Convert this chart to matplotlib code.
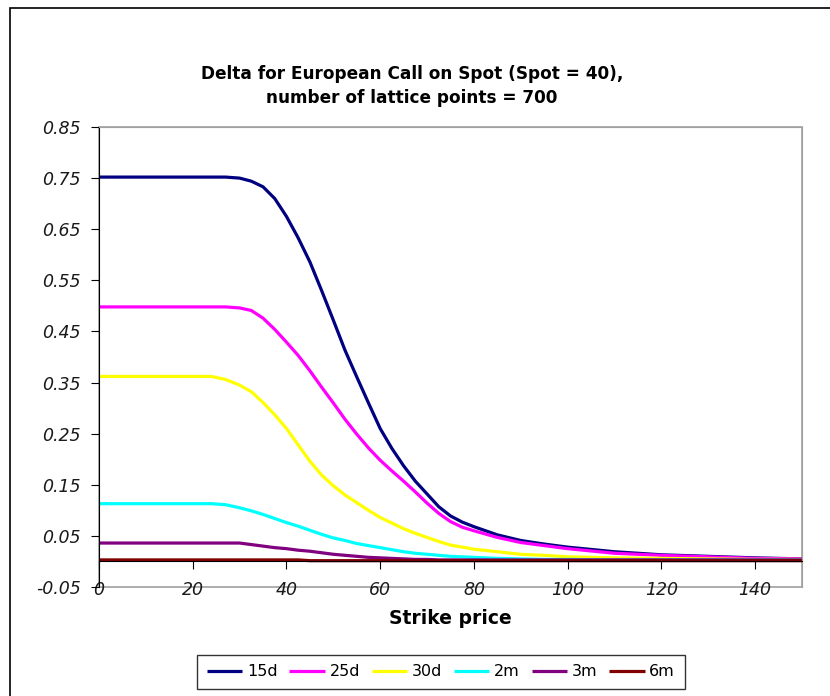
import numpy as np
import matplotlib.pyplot as plt
from matplotlib.patches import Rectangle

# strike prices (x) and delta for each maturity
strikes = [0, 10, 20, 24, 27, 30, 32.5, 35, 37.5, 40, 42.5, 45, 47.5, 50, 52.5,
           55, 57.5, 60, 62.5, 65, 67.5, 70, 72.5, 75, 77.5, 80, 85, 90, 95,
           100, 110, 120, 130, 140, 150]

d_15d = [0.752, 0.752, 0.752, 0.752, 0.752, 0.750, 0.744, 0.733, 0.710, 0.675,
         0.633, 0.586, 0.530, 0.472, 0.413, 0.361, 0.310, 0.260, 0.221, 0.187,
         0.157, 0.132, 0.107, 0.089, 0.077, 0.068, 0.052, 0.041, 0.034, 0.028,
         0.019, 0.013, 0.010, 0.007, 0.005]
d_25d = [0.498, 0.498, 0.498, 0.498, 0.498, 0.496, 0.491, 0.476, 0.454, 0.429,
         0.403, 0.373, 0.341, 0.310, 0.278, 0.249, 0.222, 0.198, 0.177, 0.157,
         0.136, 0.114, 0.094, 0.078, 0.067, 0.060, 0.047, 0.037, 0.031, 0.025,
         0.016, 0.012, 0.009, 0.006, 0.005]
d_30d = [0.362, 0.362, 0.362, 0.362, 0.356, 0.345, 0.332, 0.311, 0.287, 0.260,
         0.228, 0.196, 0.169, 0.148, 0.130, 0.115, 0.100, 0.086, 0.075, 0.064,
         0.055, 0.047, 0.039, 0.032, 0.028, 0.024, 0.019, 0.014, 0.012, 0.009,
         0.007, 0.006, 0.005, 0.004, 0.004]
d_2m = [0.113, 0.113, 0.113, 0.113, 0.111, 0.105, 0.099, 0.092, 0.084, 0.076,
        0.069, 0.061, 0.053, 0.046, 0.041, 0.035, 0.031, 0.027, 0.023, 0.019,
        0.016, 0.014, 0.012, 0.010, 0.009, 0.008, 0.006, 0.005, 0.004, 0.004,
        0.003, 0.003, 0.003, 0.003, 0.003]
d_3m = [0.036, 0.036, 0.036, 0.036, 0.036, 0.036, 0.033, 0.030, 0.027, 0.025,
        0.022, 0.020, 0.017, 0.014, 0.012, 0.010, 0.008, 0.007, 0.006, 0.005,
        0.004, 0.004, 0.003, 0.003, 0.003, 0.003, 0.003, 0.003, 0.003, 0.003,
        0.003, 0.003, 0.003, 0.003, 0.003]
d_6m = [0.003, 0.003, 0.003, 0.003, 0.003, 0.003, 0.003, 0.003, 0.003, 0.003,
        0.003, 0.0015, 0.0015, 0.0015, 0.0015, 0.0015, 0.0015, 0.0015, 0.0015,
        0.0015, 0.0015, 0.0015, 0.0015, 0.0015, 0.0015, 0.0015, 0.0015, 0.0015,
        0.0015, 0.0015, 0.0015, 0.0015, 0.0015, 0.0015, 0.0015]

labels = ['15d', '25d', '30d', '2m', '3m', '6m']
colors = ['#000080', '#FF00FF', '#FFFF00', '#00FFFF', '#800080', '#800000']
series = [d_15d, d_25d, d_30d, d_2m, d_3m, d_6m]

fig = plt.figure(figsize=(8.3, 6.96), dpi=100)
ax = fig.add_axes([99/830, 1-587/696, (802-99)/830, (587-127)/696])

for vals, lab, col in zip(series, labels, colors):
    ax.plot(strikes, vals, color=col, lw=2.3, label=lab, solid_capstyle='butt')

ax.set_xlim(0, 150)
ax.set_ylim(-0.05, 0.85)
ax.set_xticks(np.arange(0, 141, 20))
ax.set_yticks(np.arange(-0.05, 0.851, 0.1))
ax.set_yticklabels(['%.2f' % v for v in np.arange(-0.05, 0.851, 0.1)])

# plot area frame in grey, axis lines in black
for s in ['top', 'right']:
    ax.spines[s].set_color('#a0a0a0')
ax.spines['bottom'].set_position(('data', 0))
ax.spines['bottom'].set_color('black')
ax.spines['left'].set_color('black')
ax.add_patch(Rectangle((0, 0), 1, 1, transform=ax.transAxes, fill=False,
                       edgecolor='#a0a0a0', lw=1.2, clip_on=False, zorder=0))

ax.tick_params(axis='both', direction='out', length=6, colors='black',
               labelsize=12.5)
ax.tick_params(axis='y', pad=7)
ax.tick_params(axis='x', pad=8)
for t in ax.get_xticklabels() + ax.get_yticklabels():
    t.set_fontstyle('italic')
    t.set_color('#1a1a1a')

ax.set_xlabel('Strike price', fontsize=13.5, fontweight='bold', labelpad=7)

fig.text(412/830, 1-86/696,
         'Delta for European Call on Spot (Spot = 40),\nnumber of lattice points = 700',
         ha='center', va='center', fontsize=12.2, fontweight='bold',
         linespacing=1.45)

leg = fig.legend(loc='center', bbox_to_anchor=(441/830, 1-672/696), ncol=6,
                 fontsize=11.5, frameon=True, fancybox=False,
                 handlelength=2.2, handletextpad=0.3, columnspacing=0.75,
                 borderpad=0.6, borderaxespad=0)
leg.get_frame().set_edgecolor('black')
leg.get_frame().set_linewidth(1.0)

# outer chart border (left and top edges visible)
fig.add_artist(Rectangle((10/830, -0.1), 1.2, 1.1 - 8/696,
                         transform=fig.transFigure, fill=False,
                         edgecolor='black', lw=1.2))

fig.savefig('out.png', dpi=100)
